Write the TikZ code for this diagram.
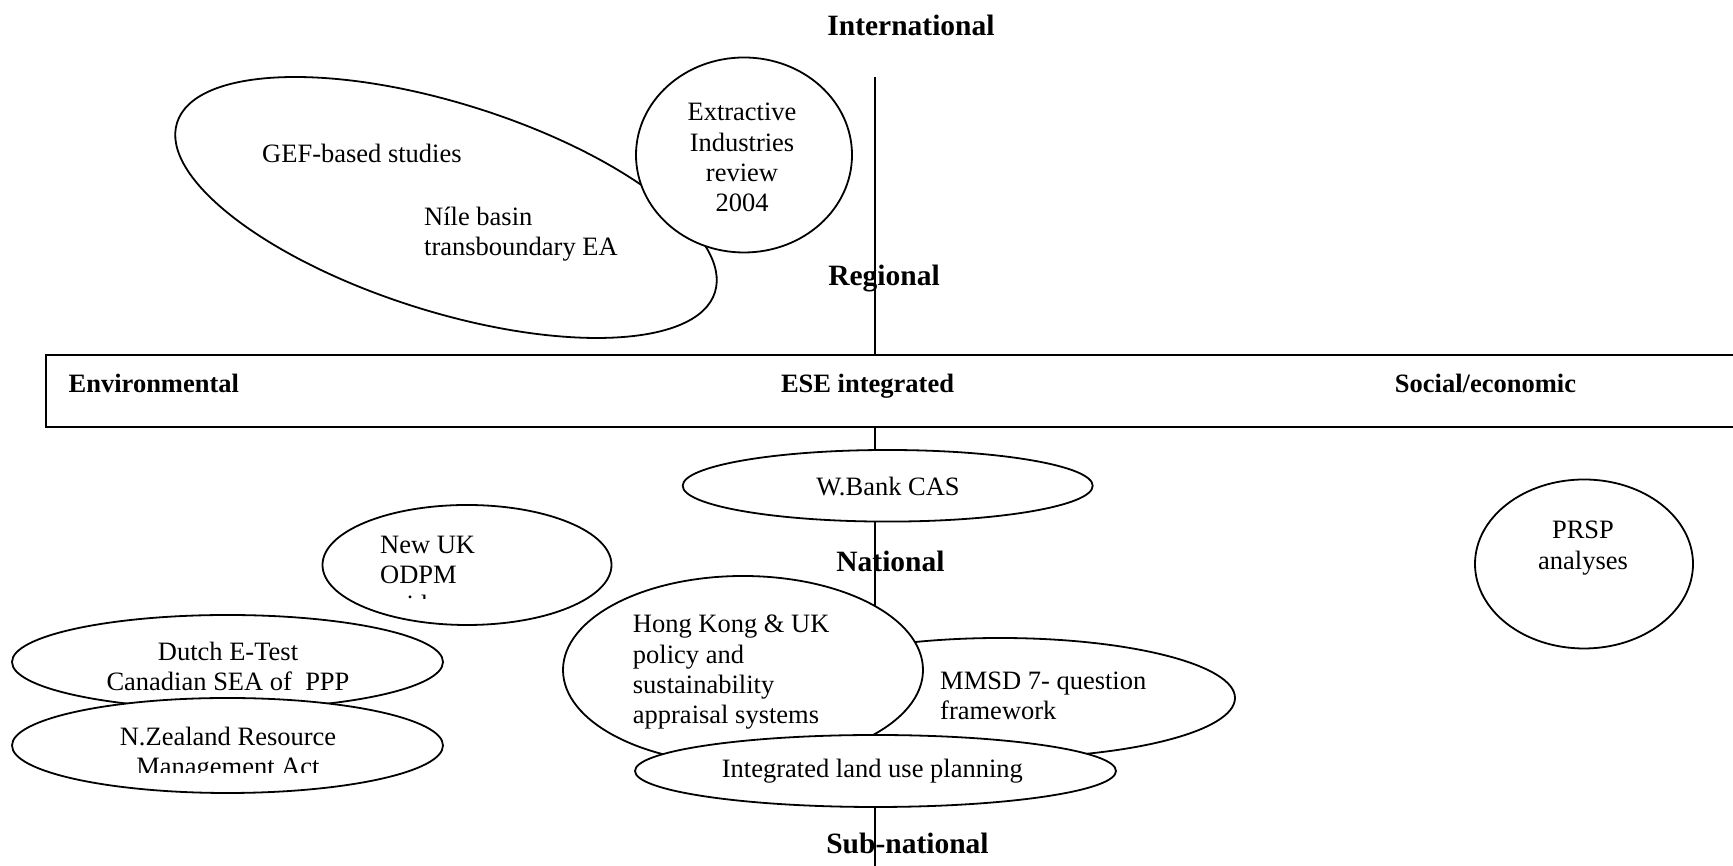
\documentclass[tikz,border=0pt]{standalone}
\usepackage{fontspec}
\setmainfont{Liberation Serif}
\usetikzlibrary{shapes.geometric}
\begin{document}
\begin{tikzpicture}[x=1pt,y=1pt,
  oval/.style={ellipse, draw, fill=white, line width=1.8pt, inner sep=0pt},
  txt/.style={font=\fontsize{26.5}{30.4}\selectfont, inner sep=0pt},
  axislbl/.style={font=\fontsize{29.5}{34}\selectfont\bfseries, inner sep=0pt, anchor=base},
  bandlbl/.style={font=\fontsize{26.5}{30.4}\selectfont\bfseries, inner sep=0pt, anchor=base}]
\useasboundingbox (0,0) rectangle (1733,866);
\clip (0,0) rectangle (1733,866);
% vertical axis
\coordinate (axtop) at (875,789);
\coordinate (axbot) at (875,-5);
\draw[line width=1.5pt] (axtop) -- (axbot);
% regional shapes
\node[oval, minimum width=564, minimum height=208, rotate=-17.5] (gef) at (446,658.5) {};
\node[oval, minimum width=216, minimum height=195] (eir) at (744,711) {};
% band
\node[draw, fill=white, line width=2pt, minimum width=1720, minimum height=72, anchor=north west, inner sep=0pt] (band) at (45,512) {};
% national shapes
\node[oval, minimum width=410, minimum height=71.6] (wbank) at (887.7,380.2) {};
\node[oval, minimum width=289, minimum height=120] (odpm) at (467,301) {};
\node[oval, minimum width=218, minimum height=169] (prsp) at (1584,302) {};
\node[oval, minimum width=431, minimum height=94] (dutch) at (227.5,204) {};
\node[oval, minimum width=431, minimum height=95] (nz) at (227.5,120.5) {};
\node[oval, minimum width=470, minimum height=120] (mmsd) at (1000,168) {};
\node[oval, minimum width=360, minimum height=188] (hk) at (743,196) {};
\node[oval, minimum width=481, minimum height=72] (landuse) at (875.5,95) {};
% axis labels
\node[axislbl] (intl) at (911,830) {International};
\node[axislbl] (regional) at (884,580) {Regional};
\node[axislbl] (national) at (890.5,294) {National};
\node[axislbl] (subnat) at (907.5,12) {Sub-national};
% band labels
\node[bandlbl, anchor=base west] (env) at (68.5,473) {Environmental};
\node[bandlbl] (ese) at (867.5,473) {ESE integrated};
\node[bandlbl] (soc) at (1485.5,473) {Social/economic};
% texts (base anchor = baseline of last line)
\node[txt, align=center, anchor=base] (eirt) at (742,654) {Extractive\\Industries\\review\\2004};
\node[txt, anchor=base west] (geft) at (262,703) {GEF-based studies};
\node[txt, align=left, anchor=base west] (nilet) at (424,610) {Níle basin\\transboundary EA};
\node[txt, anchor=base] (wbankt) at (888,370) {W.Bank CAS};
\begin{scope}
\clip (300,267) rectangle (640,340);
\node[txt, align=left, anchor=base west] (odpmt) at (380,252) {New UK\\ODPM\\guidance};
\end{scope}
\node[txt, align=center, anchor=base] (prspt) at (1583,296) {PRSP\\[1pt]analyses};
\node[txt, align=center, anchor=base] (dutcht) at (228,175) {Dutch E-Test\\Canadian SEA of~~PPP};
\begin{scope}
\clip (0,93) rectangle (460,140);
\node[txt, align=center, anchor=base] (nzt) at (228,90) {N.Zealand Resource\\Management Act};
\end{scope}
\node[txt, align=left, anchor=base west] (hkt) at (632.7,142) {Hong Kong \& UK\\policy and\\sustainability\\appraisal systems};
\node[txt, align=left, anchor=base west] (mmsdt) at (940,146) {MMSD 7- question\\framework};
\node[txt, anchor=base west] (landt) at (721.7,88.5) {Integrated land use planning};
\end{tikzpicture}
\end{document}
